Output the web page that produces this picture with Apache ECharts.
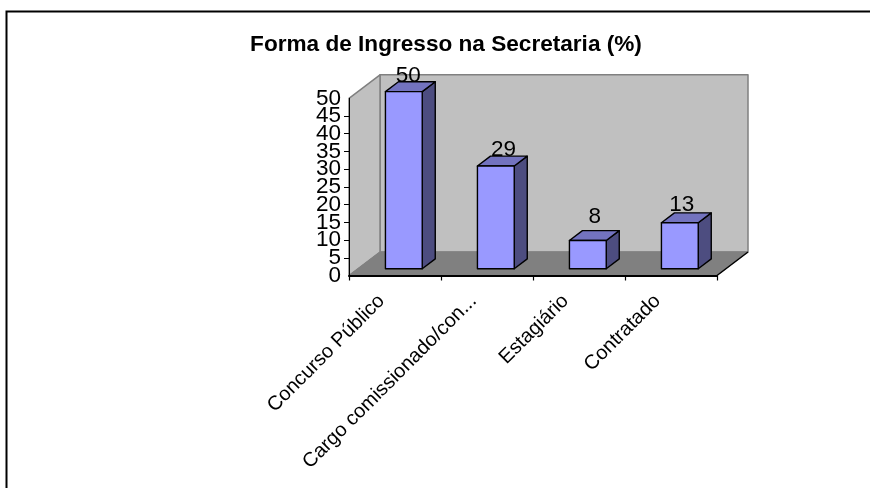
<!DOCTYPE html>
<html><head><meta charset="utf-8">
<style>html,body{margin:0;padding:0;background:#fff}#c{width:870px;height:488px}</style>
<script src="https://cdn.jsdelivr.net/npm/echarts@6/dist/echarts.min.js"></script>
</head><body><div id="c"></div>
<script>
const chartTitle = 'Forma de Ingresso na Secretaria (%)';
const categories = ['Concurso Público', 'Cargo comissionado/con...', 'Estagiário', 'Contratado'];
const values = [50, 29, 8, 13];
const yMin = 0, yMax = 50, yStep = 5;

const FONT = '"Liberation Sans", Arial, sans-serif';
const WALL_DX = 31, WALL_DY = -23.5;   // projection of the chart's depth
const BAR_FRONT = 0.285, BAR_DEPTH = 0.42; // bar front offset and depth, fractions of the wall depth
const BAR_W = 0.4;                      // bar width, fraction of a category band
const LABEL_NUDGE_X = [4.5, 7.7, 7, 2];  // data label placement relative to the bar
const LABEL_NUDGE_Y = [6, 5.5, -2.5, 3.5];

const chart = echarts.init(document.getElementById('c'), null, {renderer: 'canvas'});

function poly(points, fill, stroke, lw) {
  return {type: 'polygon', shape: {points}, style: {fill, stroke, lineWidth: lw, lineJoin: 'round'}};
}

function renderWalls(params, api) {
  const band = api.size([1, 0])[0];
  const a = api.coord([0, yMin]), b = api.coord([categories.length - 1, yMin]), t = api.coord([0, yMax]);
  const x0 = a[0] - band / 2, x1 = b[0] + band / 2, y0 = a[1], y1 = t[1];
  const dx = WALL_DX, dy = WALL_DY;
  return {type: 'group', children: [
    poly([[x0 + dx, y0 + dy], [x1 + dx, y0 + dy], [x1 + dx, y1 + dy], [x0 + dx, y1 + dy]], '#C0C0C0', '#808080', 1.5),
    poly([[x0, y0], [x0 + dx, y0 + dy], [x0 + dx, y1 + dy], [x0, y1]], '#C0C0C0', '#808080', 1.5),
    poly([[x0, y0], [x1, y0], [x1 + dx, y0 + dy], [x0 + dx, y0 + dy]], '#808080', '#808080', 1),
    {type: 'line', shape: {x1: x1, y1: y0, x2: x1 + dx, y2: y0 + dy}, style: {stroke: '#000', lineWidth: 1.5}}
  ]};
}

function renderBar(params, api) {
  const band = api.size([1, 0])[0];
  const c = api.value(0), v = api.value(1);
  const base = api.coord([c, yMin]), top = api.coord([c, v]);
  const w = band * BAR_W;
  const ox = WALL_DX * BAR_FRONT, oy = WALL_DY * BAR_FRONT;
  const dx = WALL_DX * BAR_DEPTH, dy = WALL_DY * BAR_DEPTH;
  const l = base[0] - w / 2 + ox, r = l + w, b = base[1] + oy, t = top[1] + oy;
  const K = '#000';
  return {type: 'group', children: [
    poly([[r, b], [r + dx, b + dy], [r + dx, t + dy], [r, t]], '#4D4D80', K, 1.4),
    poly([[l, t], [r, t], [r + dx, t + dy], [l + dx, t + dy]], '#7373BF', K, 1.4),
    poly([[l, b], [r, b], [r, t], [l, t]], '#9999FF', K, 1.4),
    {type: 'text', x: (l + r) / 2 + LABEL_NUDGE_X[c], y: t + dy + LABEL_NUDGE_Y[c], z2: 10,
     style: {text: String(v), font: '22.5px ' + FONT, fill: '#000', align: 'center', verticalAlign: 'bottom'}}
  ]};
}

const yLabelStyle = {margin: 8, hideOverlap: false, fontFamily: FONT, fontSize: 22.5, color: '#000'};

chart.setOption({
  animation: false,
  backgroundColor: '#fff',
  title: {text: chartTitle, left: 441, top: 28, textAlign: 'center',
    textStyle: {fontFamily: FONT, fontSize: 22.6, fontWeight: 'bold', color: '#000'}},
  grid: {left: 349, right: 153, top: 98.3, bottom: 212.5, containLabel: false},
  xAxis: {type: 'category', data: categories, z: 2,
    axisLine: {lineStyle: {color: '#000', width: 2}},
    axisTick: {show: true, alignWithLabel: false, length: 5, lineStyle: {color: '#000', width: 1.2}},
    splitLine: {show: false},
    axisLabel: {rotate: 45, interval: 0, margin: 9, padding: [0, 19, 0, 0], hideOverlap: false, fontFamily: FONT, fontSize: 20, color: '#000'}},
  yAxis: [
    {type: 'value', position: 'left', offset: 0, min: yMin, max: yMax, interval: yStep, z: 2,
     axisLine: {show: true, lineStyle: {color: '#000', width: 1}},
     axisTick: {show: true, length: 5, lineStyle: {color: '#000', width: 1}},
     splitLine: {show: false},
     axisLabel: Object.assign({showMinLabel: false, showMaxLabel: false}, yLabelStyle)},
    // the end labels collide with their neighbours, so they go on a twin axis with the same scale
    {type: 'value', position: 'left', offset: 0, min: yMin, max: yMax, interval: yMax - yMin, z: 2,
     axisLine: {show: false}, axisTick: {show: false}, splitLine: {show: false},
     axisLabel: yLabelStyle}
  ],
  series: [
    {type: 'custom', z: 1, silent: true, renderItem: renderWalls, data: [[0, 0]], encode: {x: 0, y: 1}},
    {type: 'custom', z: 3, renderItem: renderBar, data: values.map((v, i) => [i, v]), encode: {x: 0, y: 1}}
  ],
  graphic: [{type: 'polyline', shape: {points: [[6.5, 488], [6.5, 11.5], [870, 11.5]]}, style: {fill: null, stroke: '#000', lineWidth: 2}, silent: true}]
});
</script></body></html>
